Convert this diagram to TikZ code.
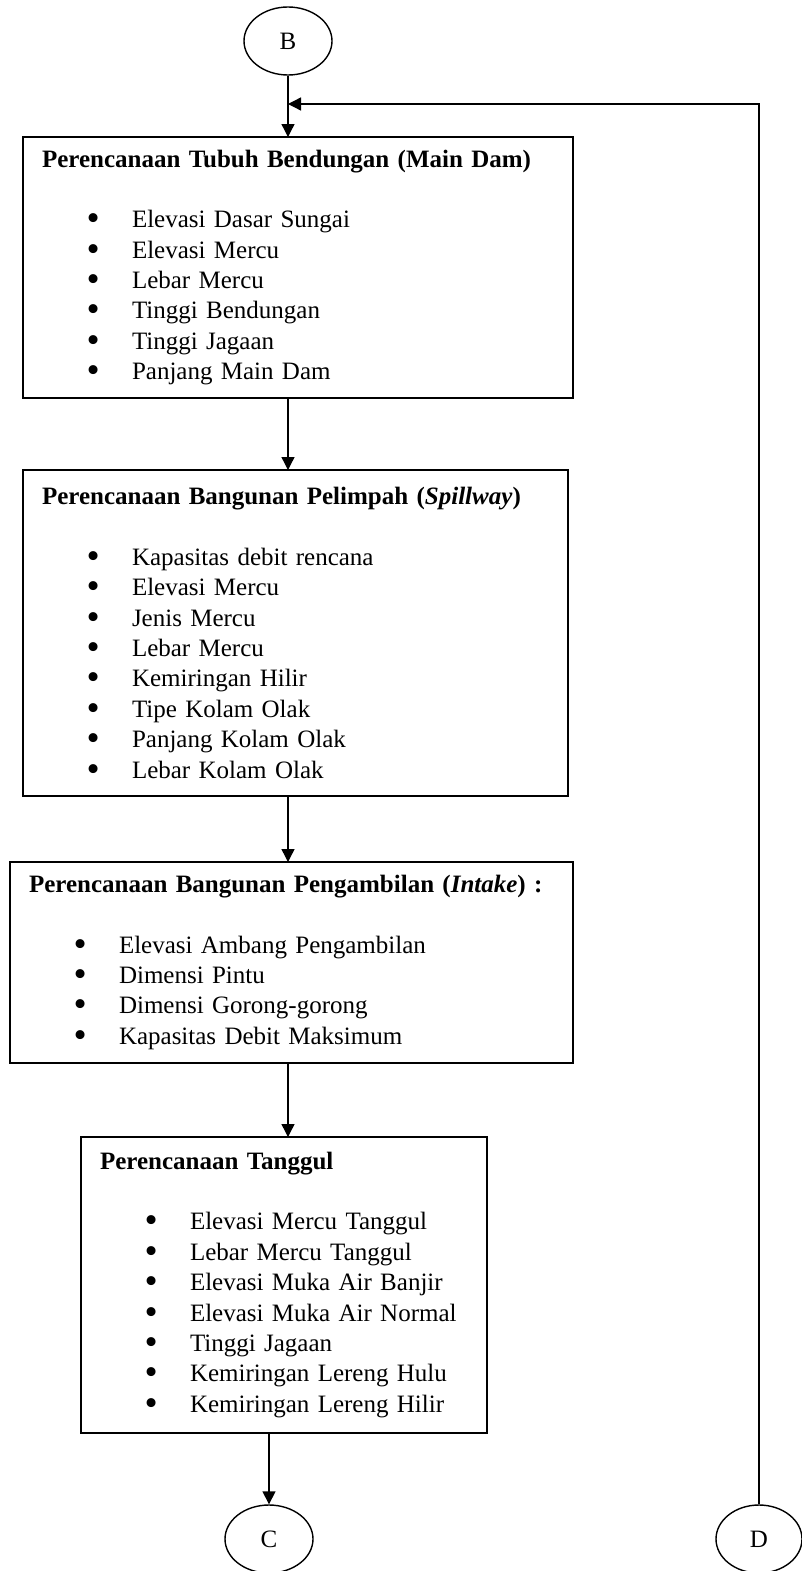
\documentclass[tikz,border=0pt]{standalone}
\usepackage{fontspec}
\setmainfont{Liberation Serif}
\usetikzlibrary{shapes.geometric,arrows.meta,positioning}
\newcommand{\itm}[1]{\hspace*{44.5pt}\makebox[45.5pt][l]{\smash{\raisebox{-3pt}{\scalebox{1.5}{\textbullet}}}}#1}

\begin{document}
\begin{tikzpicture}[x=1pt,y=-1pt,
    txt/.style={font=\fontsize{25}{30.4}\selectfont},
    box/.style={txt,draw,rectangle,line width=1.7pt,inner xsep=19pt,inner ysep=0pt,
      outer sep=0pt,align=left,anchor=north west},
    conn/.style={txt,draw,ellipse,line width=1.4pt,inner sep=0pt,minimum width=88pt,minimum height=68pt},
    arr/.style={line width=1.4pt,-{Triangle[length=13pt,width=13pt]}}]
  \useasboundingbox (0,0) rectangle (802,1571);

  \node[conn] (B) at (288,41) {B};

  \node[box,text width=512pt,minimum height=261pt] (maindam) at (23,137) {%
    \textbf{Perencanaan Tubuh Bendungan (Main Dam)}\\[30pt]
    \itm{Elevasi Dasar Sungai}\\
    \itm{Elevasi Mercu}\\
    \itm{Lebar Mercu}\\
    \itm{Tinggi Bendungan}\\
    \itm{Tinggi Jagaan}\\
    \itm{Panjang Main Dam}};

  \node[box,text width=507pt,minimum height=326pt] (spillway) at (23,470) {%
    \textbf{Perencanaan Bangunan Pelimpah (\textit{Spillway})}\\[30pt]
    \itm{Kapasitas debit rencana}\\
    \itm{Elevasi Mercu}\\
    \itm{Jenis Mercu}\\
    \itm{Lebar Mercu}\\
    \itm{Kemiringan Hilir}\\
    \itm{Tipe Kolam Olak}\\
    \itm{Panjang Kolam Olak}\\
    \itm{Lebar Kolam Olak}};

  \node[box,text width=525pt,minimum height=201pt] (intake) at (10,862) {%
    \textbf{Perencanaan Bangunan Pengambilan (\textit{Intake}) :}\\[30pt]
    \itm{Elevasi Ambang Pengambilan}\\
    \itm{Dimensi Pintu}\\
    \itm{Dimensi Gorong-gorong}\\
    \itm{Kapasitas Debit Maksimum}};

  \node[box,text width=368pt,minimum height=296pt] (tanggul) at (81,1137) {%
    \textbf{Perencanaan Tanggul}\\[30pt]
    \itm{Elevasi Mercu Tanggul}\\
    \itm{Lebar Mercu Tanggul}\\
    \itm{Elevasi Muka Air Banjir}\\
    \itm{Elevasi Muka Air Normal}\\
    \itm{Tinggi Jagaan}\\
    \itm{Kemiringan Lereng Hulu}\\
    \itm{Kemiringan Lereng Hilir}};

  \node[conn] (C) at (269,1539) {C};
  \node[conn,minimum width=86pt] (D) at (759,1539) {D};

  \coordinate (backin) at (288,104);

  \draw[arr] (B) -- (B |- maindam.north);
  \draw[arr] (maindam.south -| B) -- (spillway.north -| B);
  \draw[arr] (spillway.south -| B) -- (intake.north -| B);
  \draw[arr] (intake.south -| B) -- (tanggul.north -| B);
  \draw[arr] (tanggul.south -| C) -- (C);
  \draw[arr] (D) |- (backin);
\end{tikzpicture}
\end{document}
